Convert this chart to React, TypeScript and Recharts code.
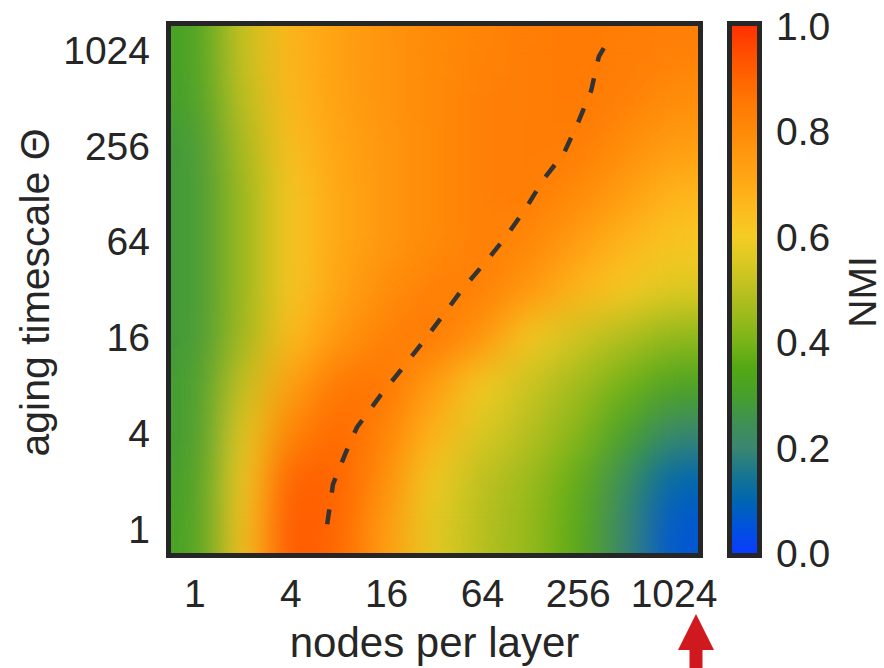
import { Label, Scatter, ScatterChart, XAxis, YAxis } from "recharts";

// log2 exponents: nodes per layer (x) and aging timescale (y), both 2^0 .. 2^10
const exponents = [0, 1, 2, 3, 4, 5, 6, 7, 8, 9, 10];
const axisTicks = [0, 2, 4, 6, 8, 10];
const colorbarTicks = [0, 0.2, 0.4, 0.6, 0.8, 1.0];

// NMI, one row per aging timescale, bottom (Θ=1) to top (Θ=1024)
const nmiTheta1 = [0.31, 0.62, 0.93, 0.89, 0.74, 0.57, 0.49, 0.44, 0.36, 0.2, 0.06];
const nmiTheta2 = [0.3, 0.6, 0.91, 0.9, 0.78, 0.59, 0.5, 0.45, 0.37, 0.23, 0.1];
const nmiTheta4 = [0.29, 0.57, 0.82, 0.89, 0.82, 0.67, 0.55, 0.49, 0.42, 0.31, 0.2];
const nmiTheta8 = [0.29, 0.52, 0.73, 0.86, 0.86, 0.74, 0.6, 0.52, 0.46, 0.39, 0.32];
const nmiTheta16 = [0.28, 0.46, 0.65, 0.76, 0.83, 0.85, 0.77, 0.61, 0.53, 0.48, 0.43];
const nmiTheta32 = [0.28, 0.45, 0.62, 0.72, 0.79, 0.83, 0.83, 0.76, 0.67, 0.61, 0.56];
const nmiTheta64 = [0.28, 0.45, 0.62, 0.71, 0.76, 0.8, 0.83, 0.81, 0.74, 0.67, 0.62];
const nmiTheta128 = [0.28, 0.45, 0.62, 0.71, 0.76, 0.8, 0.83, 0.84, 0.8, 0.74, 0.67];
const nmiTheta256 = [0.28, 0.47, 0.64, 0.72, 0.76, 0.8, 0.83, 0.84, 0.84, 0.79, 0.74];
const nmiTheta512 = [0.3, 0.5, 0.66, 0.73, 0.77, 0.8, 0.83, 0.84, 0.85, 0.83, 0.79];
const nmiTheta1024 = [0.31, 0.52, 0.67, 0.73, 0.77, 0.8, 0.82, 0.84, 0.85, 0.84, 0.83];
const nmiRows = [
  nmiTheta1, nmiTheta2, nmiTheta4, nmiTheta8, nmiTheta16, nmiTheta32,
  nmiTheta64, nmiTheta128, nmiTheta256, nmiTheta512, nmiTheta1024,
];

// dashed ridge (best nodes per layer for each Θ), log2 units
const ridgeX = [2.76, 2.88, 3.15, 3.38, 3.88, 4.3, 4.74, 5.14, 5.57, 6.08, 6.49, 6.91, 7.29, 7.7, 8.02, 8.27, 8.43, 8.54];
const ridgeY = [0.1, 0.93, 1.6, 2.12, 2.8, 3.32, 3.88, 4.41, 4.99, 5.59, 6.1, 6.7, 7.32, 7.84, 8.54, 9.15, 9.86, 10.05];

const cells = nmiRows.flatMap((row, j) =>
  row.map((v, i) => ({ x: exponents[i], y: exponents[j], v }))
);
const ridge = ridgeX.map((x, k) => ({ x, y: ridgeY[k] }));

// colormap stops (value, colour) taken from the colour bar
const cmap: [number, string][] = [
  [0.0, "#0a3cff"],
  [0.05, "#0052dc"],
  [0.1, "#0066b0"],
  [0.15, "#18768e"],
  [0.2, "#3a8670"],
  [0.25, "#3f9152"],
  [0.3, "#46a02a"],
  [0.35, "#52a814"],
  [0.4, "#78b418"],
  [0.45, "#9cba1c"],
  [0.5, "#bcc020"],
  [0.55, "#d9c822"],
  [0.6, "#f4cc24"],
  [0.65, "#fdbc1e"],
  [0.7, "#ffaa16"],
  [0.75, "#ff9a10"],
  [0.8, "#ff8a08"],
  [0.85, "#ff7a04"],
  [0.9, "#ff6400"],
  [0.95, "#ff4c00"],
  [1.0, "#ff3000"],
];

const W = 884;
const H = 668;
const PLOT = { left: 171, top: 26, right: 698, bottom: 553 };
const CELL_W = (PLOT.right - PLOT.left) / exponents.length;
const CELL_H = (PLOT.bottom - PLOT.top) / exponents.length;
const FONT = '"Liberation Sans", Arial, Helvetica, sans-serif';
const INK = "#262626";

function hexToRgb(h: string) {
  const n = parseInt(h.slice(1), 16);
  return [(n >> 16) & 255, (n >> 8) & 255, n & 255];
}

function colorFor(v: number) {
  const t = Math.max(0, Math.min(1, v));
  for (let k = 1; k < cmap.length; k++) {
    if (t <= cmap[k][0]) {
      const [t0, c0] = cmap[k - 1];
      const [t1, c1] = cmap[k];
      const f = (t - t0) / (t1 - t0);
      const a = hexToRgb(c0);
      const b = hexToRgb(c1);
      const m = a.map((x, i) => Math.round(x + (b[i] - x) * f));
      return `rgb(${m[0]},${m[1]},${m[2]})`;
    }
  }
  return cmap[cmap.length - 1][1];
}

function HeatCell(props: any) {
  const { cx, cy, payload } = props;
  if (cx == null || cy == null) return <g />;
  return (
    <rect
      x={cx - CELL_W / 2 - 0.5}
      y={cy - CELL_H / 2 - 0.5}
      width={CELL_W + 1}
      height={CELL_H + 1}
      fill={colorFor(payload.v)}
    />
  );
}

const pow2 = (v: number) => String(Math.pow(2, v));

export default function App() {
  const cbar = { x: 732, w: 25 };
  const cbarY = (v: number) => PLOT.bottom - v * (PLOT.bottom - PLOT.top);

  return (
    <div style={{ position: "absolute", left: 0, top: 0, width: W, height: H, background: "#fff" }}>
      <style>{`.heat { filter: url(#heatBlur); }`}</style>
      <ScatterChart
        width={W}
        height={H}
        margin={{ top: PLOT.top, right: W - PLOT.right, left: 21, bottom: H - PLOT.bottom - 100 }}
      >
        <XAxis
          type="number"
          dataKey="x"
          domain={[-0.5, 10.5]}
          ticks={axisTicks}
          tickFormatter={pow2}
          allowDataOverflow
          axisLine={false}
          tickLine={false}
          tickSize={0}
          tickMargin={26}
          height={100}
          tick={{ fill: INK, fontSize: 39, fontFamily: FONT }}
        >
          <Label
            content={(p: any) => {
              const vb = p.viewBox || {};
              return (
                <text
                  x={vb.x + vb.width / 2}
                  y={657}
                  textAnchor="middle"
                  fill={INK}
                  fontSize={42}
                  fontFamily={FONT}
                >
                  nodes per layer
                </text>
              );
            }}
          />
        </XAxis>
        <YAxis
          type="number"
          dataKey="y"
          domain={[-0.5, 10.5]}
          ticks={axisTicks}
          tickFormatter={pow2}
          allowDataOverflow
          axisLine={false}
          tickLine={false}
          tickSize={0}
          tickMargin={21}
          width={150}
          tick={{ fill: INK, fontSize: 39, fontFamily: FONT }}
        >
          <Label
            content={(p: any) => {
              const vb = p.viewBox || {};
              const cy = vb.y + vb.height / 2 + 3;
              return (
                <text
                  x={35}
                  y={cy}
                  dy="0.35em"
                  transform={`rotate(-90, 35, ${cy})`}
                  textAnchor="middle"
                  fill={INK}
                  fontSize={41}
                  fontFamily={FONT}
                >
                  aging timescale Θ
                </text>
              );
            }}
          />
        </YAxis>
        <Scatter
          className="heat"
          data={cells}
          shape={HeatCell}
          isAnimationActive={false}
        />
        <Scatter
          data={ridge}
          line={{ stroke: "#333333", strokeWidth: 4.5, strokeDasharray: "15 17" }}
          lineType="joint"
          shape={() => <g />}
          isAnimationActive={false}
        />
      </ScatterChart>

      <svg
        width={W}
        height={H}
        style={{ position: "absolute", left: 0, top: 0, pointerEvents: "none" }}
      >
        <defs>
          <filter
            id="heatBlur"
            x="0"
            y="0"
            width="1"
            height="1"
            colorInterpolationFilters="sRGB"
          >
            <feGaussianBlur in="SourceGraphic" stdDeviation="20" result="b" />
            <feComponentTransfer in="b" result="o">
              <feFuncA type="table" tableValues="1 1" />
            </feComponentTransfer>
            <feComposite in="o" in2="SourceGraphic" operator="in" />
          </filter>
          <linearGradient id="cbarGrad" x1="0" y1="1" x2="0" y2="0">
            {cmap.map(([t, c]) => (
              <stop key={t} offset={t} stopColor={c} />
            ))}
          </linearGradient>
        </defs>

        {/* plot frame */}
        <rect
          x={PLOT.left - 2.5}
          y={PLOT.top - 2.5}
          width={PLOT.right - PLOT.left + 5}
          height={PLOT.bottom - PLOT.top + 5}
          fill="none"
          stroke={INK}
          strokeWidth={5}
        />

        {/* colour bar */}
        <rect
          x={cbar.x}
          y={PLOT.top}
          width={cbar.w}
          height={PLOT.bottom - PLOT.top}
          fill="url(#cbarGrad)"
        />
        <rect
          x={cbar.x - 2.5}
          y={PLOT.top - 2.5}
          width={cbar.w + 5}
          height={PLOT.bottom - PLOT.top + 5}
          fill="none"
          stroke={INK}
          strokeWidth={5}
        />
        {colorbarTicks.map((t) => (
          <text
            key={t}
            x={776}
            y={cbarY(t)}
            dy="0.36em"
            fill={INK}
            fontSize={39}
            fontFamily={FONT}
          >
            {t.toFixed(1)}
          </text>
        ))}
        <text
          x={862}
          y={292}
          dy="0.35em"
          transform="rotate(-90, 862, 292)"
          textAnchor="middle"
          fill={INK}
          fontSize={39}
          fontFamily={FONT}
        >
          NMI
        </text>

        {/* red arrow under 1024 */}
        <polygon points="696,614 714,650 678,650" fill="#d0191f" />
        <rect x={689.5} y={649} width={13} height={19} fill="#d0191f" />
      </svg>
    </div>
  );
}
